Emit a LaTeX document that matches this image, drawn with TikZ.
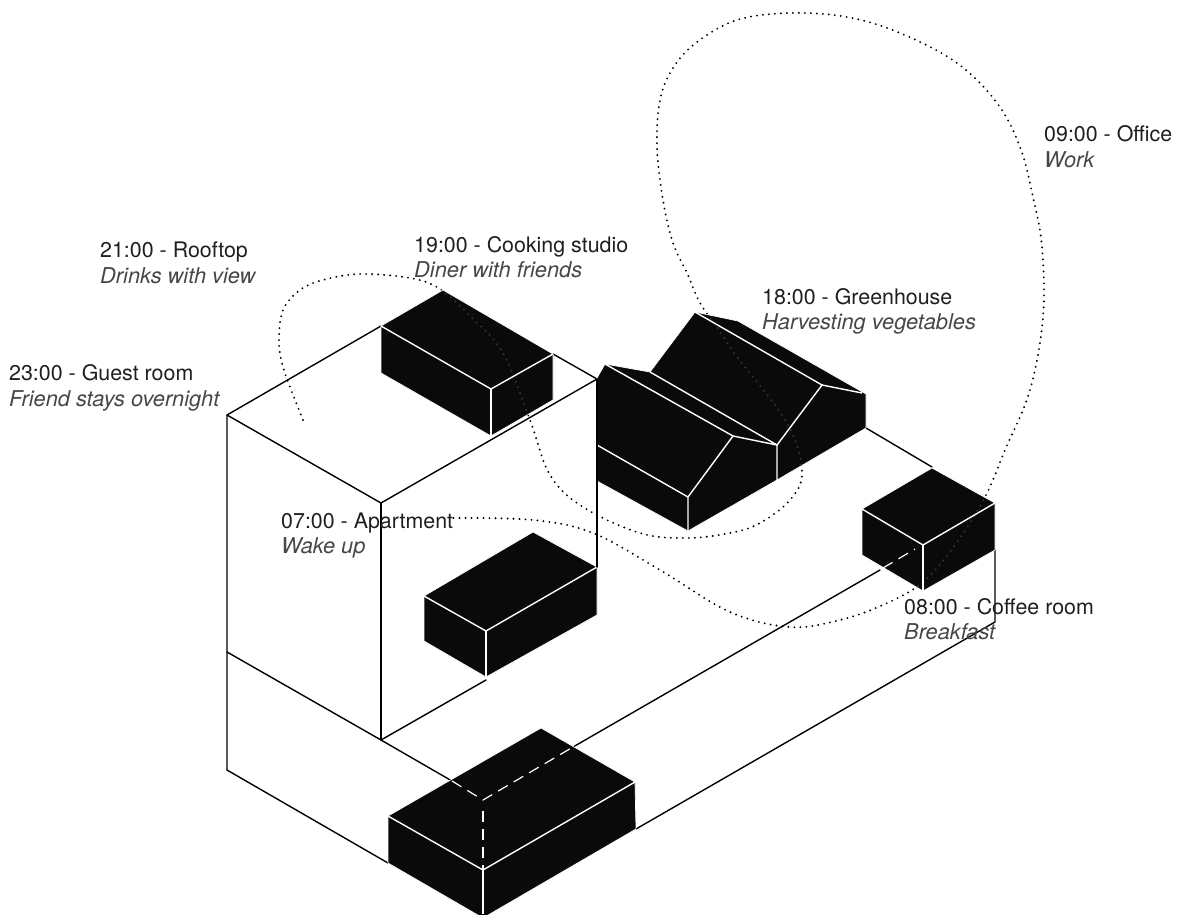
\documentclass[tikz,border=0pt]{standalone}
\usepackage{fontspec}
\setmainfont{TeX Gyre Heros}
\newcommand{\routepath}{plot[smooth,tension=0.6] coordinates {(303,420) (290,387) (282,363) (279,340) (283,310) (300,290) (323,280) (360,274) (410,278) (440,289) (472,318) (503,353) (530,420) (550,475) (583,507) (640,533) (687,538) (730,533) (760,523) (790,500) (802,472) (787,423) (737,357) (717,327) (700,303) (687,273) (673,243) (663,200) (657,147) (660,100) (673,68) (697,42) (737,20) (790,13) (847,17) (900,33) (957,63) (997,103) (1020,147) (1033,197) (1042,247) (1043,317) (1030,390) (1005,450) (985,497) (955,545) (923,582) (885,604) (840,620) (790,627) (730,612) (660,570) (593,533) (533,520) (453,518)}}
\tikzset{
  x=1pt,y=-1pt,
  wall/.style={draw=black,line width=1.4pt,line cap=round,line join=round},
  block/.style={fill=black!96,draw=white,line width=0.7pt,line join=round},
  ridge/.style={draw=white,line width=1.4pt,line join=miter},
  hidden/.style={draw=white,line width=1.2pt,dash pattern=on 11pt off 7pt},
  route/.style={line width=2.1pt,line cap=round,dash pattern=on 0pt off 6pt},
  head/.style={anchor=base west,font=\fontsize{21.4}{24}\selectfont,text=black!88,inner sep=0pt},
  sub/.style={anchor=base west,font=\fontsize{21.8}{24}\selectfont\itshape,text=black!72,inner sep=0pt}
}
\begin{document}
\begin{tikzpicture}
\useasboundingbox (0,0) rectangle (1178,914);
\fill[white] (0,0) rectangle (1178,914);
\clip (0,0) rectangle (1178,914);
% route
\draw[route,black] \routepath;
% building lines
\draw[wall] (227,770) -- (227,415) -- (381,326);
\draw[wall] (553,354) -- (597,379) -- (381,503) -- (227,415);
\draw[wall] (381,503) -- (381,740);
\draw[wall] (227,652) -- (381,740) -- (452,781);
\draw[wall] (381,740) -- (486,680);
\draw[wall] (227,770) -- (388,863);
\draw[wall] (636,829) -- (995,622) -- (995,550);
\draw[wall] (573,747) -- (880,570);
\draw[wall] (866,428) -- (932,467);
\draw[wall] (597,379) -- (597,567);
% blocks
\draw[block] (381,326) -- (443,290) -- (553,354) -- (553,400) -- (491,436) -- (381,373) -- cycle;
\draw[block] (424,596) -- (533,532) -- (597,567) -- (597,615) -- (486,677) -- (424,641) -- cycle;
\draw[block] (597,378) -- (605,364) -- (650,372) -- (695,312) -- (738,321) -- (866,394) -- (866,428) -- (777,480) -- (688,531) -- (597,481) -- cycle;
\draw[block] (862,509) -- (932,468) -- (995,503) -- (995,550) -- (923,591) -- (862,555) -- cycle;
\draw[block] (388,816) -- (541,728) -- (635,782) -- (636,829) -- (483,918) -- (388,863) -- cycle;
% route seen across blocks
\begin{scope}
\clip (381,326) -- (443,290) -- (553,354) -- (553,400) -- (491,436) -- (381,373) -- cycle;
\draw[route,black!78] \routepath;
\end{scope}
\begin{scope}
\clip (597,378) -- (605,364) -- (650,372) -- (695,312) -- (738,321) -- (866,394) -- (866,428) -- (777,480) -- (688,531) -- (597,481) -- cycle;
\draw[route,black!78] \routepath;
\end{scope}
\begin{scope}
\clip (862,509) -- (932,468) -- (995,503) -- (995,550) -- (923,591) -- (862,555) -- cycle;
\draw[route,black!78] \routepath;
\end{scope}
% ridges
\draw[ridge] (381,326) -- (491,389) -- (553,354);
\draw[ridge] (491,389) -- (491,436);
\draw[ridge] (424,596) -- (486,631) -- (597,567);
\draw[ridge] (486,631) -- (486,677);
\draw[ridge] (605,364) -- (733,436) -- (688,497) -- (688,531);
\draw[ridge] (597,445) -- (688,497);
\draw[ridge] (733,436) -- (777,445) -- (777,480);
\draw[ridge] (650,372) -- (777,445) -- (822,385) -- (695,312);
\draw[ridge] (822,385) -- (862,393);
\draw[ridge] (862,509) -- (923,545) -- (995,503);
\draw[ridge] (923,545) -- (923,591);
\draw[ridge] (388,816) -- (483,870) -- (635,782);
\draw[ridge] (483,870) -- (483,914);
% hidden edges
\draw[hidden] (452,781) -- (483,800) -- (573,747);
\draw[hidden] (483,811) -- (483,870);
\draw[hidden] (883,568) -- (915,549);
% building corner over the greenhouse
\draw[wall] (597,379) -- (597,567);
% labels
\node[head] (office) at (1044,141) {09:00 - Office};
\node[sub] (officeb) at (1044,167) {Work};
\node[head] (roof) at (100,257) {21:00 - Rooftop};
\node[sub] (roofb) at (100,283) {Drinks with view};
\node[head] (cook) at (414,252) {19:00 - Cooking studio};
\node[sub] (cookb) at (414,277) {Diner with friends};
\node[head] (green) at (762,304) {18:00 - Greenhouse};
\node[sub] (greenb) at (762,329) {Harvesting vegetables};
\node[head] (guest) at (9,380) {23:00 - Guest room};
\node[sub] (guestb) at (9,406) {Friend stays overnight};
\node[head] (apt) at (281,528) {07:00 - Apartment};
\node[sub] (aptb) at (281,553) {Wake up};
\node[head] (coffee) at (904,614) {08:00 - Coffee room};
\node[sub] (coffeeb) at (904,639) {Breakfast};
\end{tikzpicture}
\end{document}
